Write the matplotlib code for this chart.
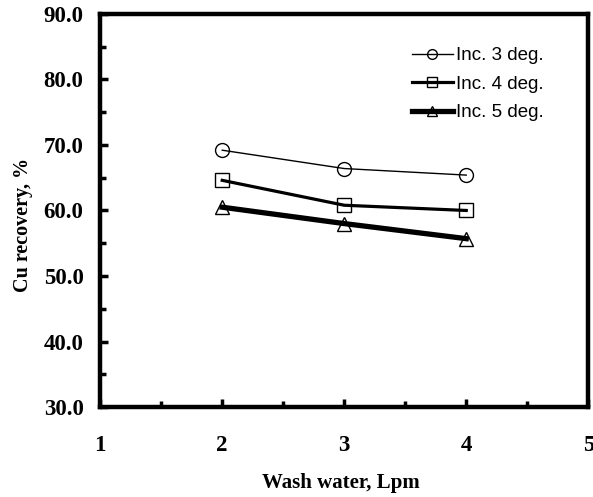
import matplotlib.pyplot as plt
from matplotlib.ticker import MultipleLocator, FormatStrFormatter

# data
wash_water = [2, 3, 4]
inc3 = [69.2, 66.4, 65.4]
inc4 = [64.6, 60.8, 60.0]
inc5 = [60.5, 58.0, 55.7]

series_labels = ['Inc. 3 deg.', 'Inc. 4 deg.', 'Inc. 5 deg.']

fig = plt.figure(figsize=(5.93, 4.97), dpi=100)
ax = fig.add_axes([0.169, 0.181, 0.823, 0.791])

ax.plot(wash_water, inc3, color='black', lw=1.0, marker='o', ms=10,
        mfc='none', mec='black', mew=1.0, label=series_labels[0])
ax.plot(wash_water, inc4, color='black', lw=2.3, marker='s', ms=10,
        mfc='none', mec='black', mew=1.0, label=series_labels[1])
ax.plot(wash_water, inc5, color='black', lw=3.8, marker='^', ms=10,
        mfc='none', mec='black', mew=1.0, label=series_labels[2])

ax.set_xlim(1, 5)
ax.set_ylim(30, 90)
ax.xaxis.set_major_locator(MultipleLocator(1))
ax.xaxis.set_minor_locator(MultipleLocator(0.5))
ax.yaxis.set_major_locator(MultipleLocator(10))
ax.yaxis.set_minor_locator(MultipleLocator(5))
ax.yaxis.set_major_formatter(FormatStrFormatter('%.1f'))

for sp in ax.spines.values():
    sp.set_linewidth(3.2)

ax.tick_params(which='both', direction='in', width=2.5, top=False, right=False)
ax.tick_params(which='major', length=6)
ax.tick_params(which='minor', length=4.5)
ax.tick_params(axis='y', which='major', pad=12)
ax.tick_params(axis='x', which='major', pad=20)

for lab in ax.get_xticklabels() + ax.get_yticklabels():
    lab.set_fontfamily('Liberation Serif')
    lab.set_fontweight('bold')
    lab.set_fontsize(16.5)

ax.set_xlabel('Wash water, Lpm', fontfamily='Liberation Serif', fontweight='bold',
              fontsize=15)
ax.set_ylabel('Cu recovery, %', fontfamily='Liberation Serif', fontweight='bold',
              fontsize=14.5)
ax.xaxis.set_label_coords(0.493, -0.168)
ax.yaxis.set_label_coords(-0.137, 0.463)

leg = ax.legend(loc='upper left', bbox_to_anchor=(0.604, 0.958), frameon=False,
                prop={'family': 'Liberation Sans', 'size': 13.5}, handlelength=2.2,
                handletextpad=0.15, labelspacing=0.6, markerscale=0.7)

fig.savefig('out.png', dpi=100)
